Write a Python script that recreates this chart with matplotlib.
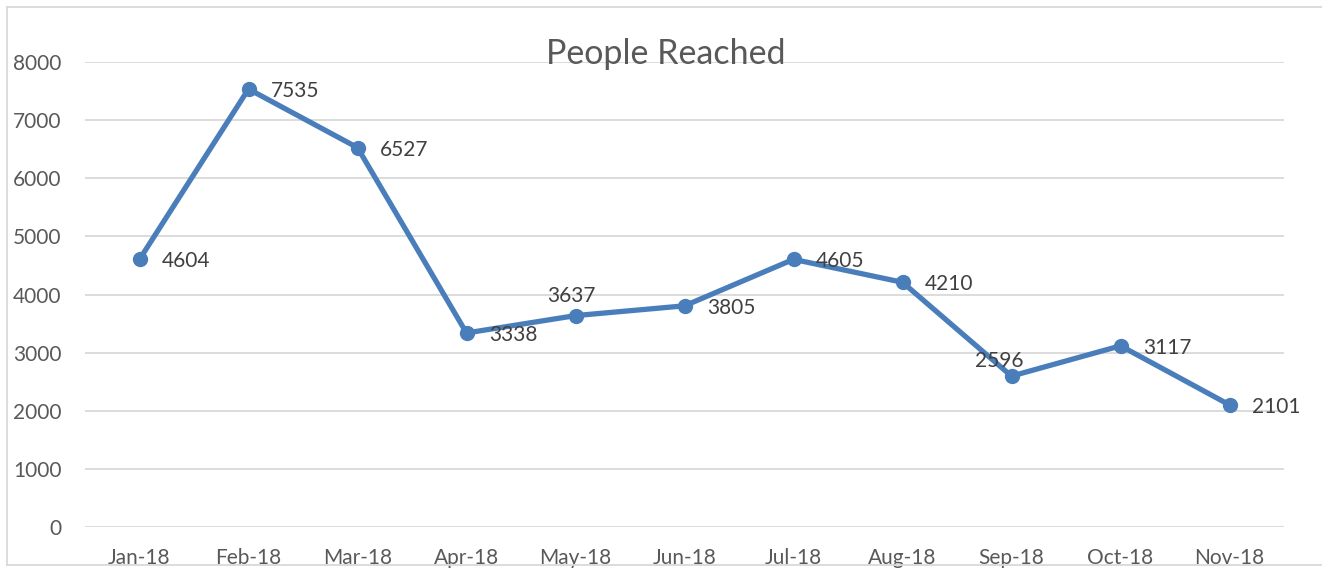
import matplotlib
matplotlib.use("Agg")
import matplotlib.pyplot as plt
from matplotlib.lines import Line2D

months = ["Jan-18", "Feb-18", "Mar-18", "Apr-18", "May-18", "Jun-18",
          "Jul-18", "Aug-18", "Sep-18", "Oct-18", "Nov-18"]
reached = [4604, 7535, 6527, 3338, 3637, 3805, 4605, 4210, 2596, 3117, 2101]
yticks = [0, 1000, 2000, 3000, 4000, 5000, 6000, 7000, 8000]
title = "People Reached"

label_pos = ["right"] * len(reached)
label_pos[4] = "above"
label_pos[8] = "aboveleft"

W, H = 1322, 568
fig = plt.figure(figsize=(W / 100, H / 100), dpi=100)
plt.rcParams['font.family'] = ['Lato', 'DejaVu Sans']
text_color = "#595959"
line_color = "#4A7EBB"
grid_color = "#D9D9D9"

ax = fig.add_axes([85 / W, 1 - 527 / H, (1284 - 85) / W, (527 - 62) / H])
x = list(range(len(months)))
ax.plot(x, reached, color=line_color, lw=3.8, marker="o", markersize=10,
        solid_joinstyle="round", zorder=3, clip_on=False)
ax.set_xlim(-0.5, len(months) - 0.5)
ax.set_ylim(0, 8000)
ax.set_yticks(yticks)
ax.set_xticks(x)
ax.set_xticklabels(months)
for s in ax.spines.values():
    s.set_visible(False)
ax.grid(axis="y", color=grid_color, lw=1.3)
ax.set_axisbelow(True)
ax.tick_params(axis="both", length=0, labelsize=15, colors=text_color)
ax.tick_params(axis="y", pad=17)
ax.tick_params(axis="x", pad=15)

for xi, v, pos in zip(x, reached, label_pos):
    if pos == "right":
        off, ha, va = (16, -1.5), "left", "center"
    elif pos == "above":
        off, ha, va = (-3, 7), "center", "bottom"
    else:
        off, ha, va = (-9, 4), "center", "bottom"
    ax.annotate(str(v), (xi, v), xytext=off, textcoords="offset points",
                ha=ha, va=va, fontsize=15, color="#404040", zorder=4)

fig.text(666 / W, 1 - 54 / H, title, ha="center", va="center",
         fontsize=24.5, color=text_color)

bc = "#D9D9D9"
fig.add_artist(Line2D([7 / W, 7 / W], [1 - 7 / H, 1 - 565 / H], transform=fig.transFigure, color=bc, lw=1.3))
fig.add_artist(Line2D([7 / W, 1], [1 - 7 / H, 1 - 7 / H], transform=fig.transFigure, color=bc, lw=1.3))
fig.add_artist(Line2D([7 / W, 1], [1 - 565 / H, 1 - 565 / H], transform=fig.transFigure, color=bc, lw=1.3))

fig.savefig("out.png", dpi=100, facecolor="white")
